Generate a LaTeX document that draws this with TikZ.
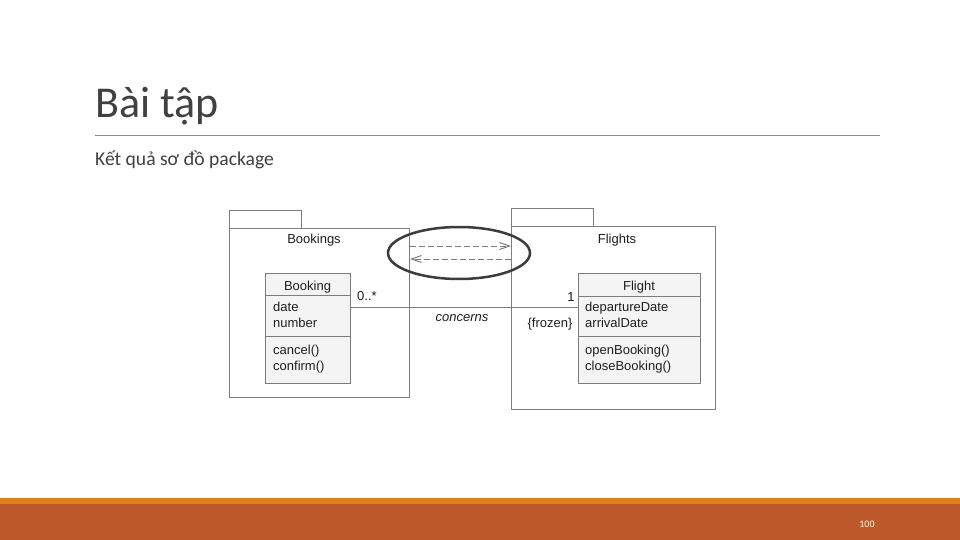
\documentclass[tikz,border=0pt]{standalone}
\usepackage{fontspec}
\setmainfont{Carlito}
\newfontfamily\umlfont{Liberation Sans}
\usetikzlibrary{arrows.meta,shapes.geometric}
\definecolor{titlegray}{RGB}{64,64,64}
\definecolor{rulegray}{RGB}{140,140,140}
\definecolor{umlgray}{RGB}{125,125,125}
\definecolor{clsfill}{RGB}{244,244,244}
\definecolor{umltext}{RGB}{30,30,30}
\definecolor{barorange}{RGB}{224,128,30}
\definecolor{barrust}{RGB}{188,88,42}
\definecolor{ellgray}{RGB}{60,60,60}
\tikzset{
  pkgbox/.style={draw=umlgray, line width=1pt, fill=white, inner sep=0pt, anchor=north west},
  clsbox/.style={draw=umlgray, line width=1pt, fill=clsfill, inner sep=0pt, anchor=north west},
  umltxt/.style={font=\umlfont\fontsize{13}{15}\selectfont, text=umltext, inner sep=0pt},
  umlleft/.style={umltxt, anchor=base west},
  umlmid/.style={umltxt, anchor=base},
  depline/.style={draw=umlgray, line width=1pt, dash pattern=on 6pt off 3pt, -{Straight Barb[length=10pt,width=7pt]}},
  assoc/.style={draw=umlgray, line width=1pt},
}
\begin{document}
\begin{tikzpicture}[x=1pt,y=-1pt]
\useasboundingbox (0,0) rectangle (960,540);
% title
\node[anchor=base west, inner sep=0pt, text=titlegray, font=\fontsize{44}{48}\selectfont] (title) at (95,118) {Bài tập};
\coordinate (ruleL) at (95,136);
\coordinate (ruleR) at (880,136);
\draw[rulegray, line width=1pt] (ruleL) -- (ruleR);
\node[anchor=base west, inner sep=0pt, text=titlegray, font=\fontsize{19.6}{24}\selectfont] (sub) at (95,166) {Kết quả sơ đồ package};
% bottom bars
\fill[barorange] (0,497.5) rectangle (960,504);
\fill[barrust] (0,504) rectangle (960,540);
\node[text=white!92!yellow, font=\fontsize{10}{12}\selectfont, inner sep=0pt] (pnum) at (867,524) {100};

% Bookings package
\node[pkgbox, minimum width=72pt, minimum height=18pt] (bktab) at (229,210) {};
\node[pkgbox, minimum width=180pt, minimum height=169pt] (bkpkg) at (229,228) {};
\node[umlmid] (bkname) at (314,243) {Bookings};
% Booking class
\node[clsbox, minimum width=85pt, minimum height=22pt] (bkhead) at (265,273) {};
\node[clsbox, minimum width=85pt, minimum height=41pt] (bkattr) at (265,295) {};
\node[clsbox, minimum width=85pt, minimum height=47pt] (bkops) at (265,336) {};
\node[umlmid] (bkcls) at (307.5,290) {Booking};
\node[umlleft] (bka1) at (273,311) {date};
\node[umlleft] (bka2) at (273,327) {number};
\node[umlleft] (bko1) at (273,354) {cancel()};
\node[umlleft] (bko2) at (273,370) {confirm()};

% Flights package
\node[pkgbox, minimum width=82pt, minimum height=18pt] (fltab) at (511,208) {};
\node[pkgbox, minimum width=204pt, minimum height=183pt] (flpkg) at (511,226) {};
\node[umlmid] (flname) at (617,243) {Flights};
% Flight class
\node[clsbox, minimum width=122pt, minimum height=23pt] (flhead) at (578,273) {};
\node[clsbox, minimum width=122pt, minimum height=40pt] (flattr) at (578,296) {};
\node[clsbox, minimum width=122pt, minimum height=47pt] (flops) at (578,336) {};
\node[umlmid] (flcls) at (639,290) {Flight};
\node[umlleft] (fla1) at (585,311) {departureDate};
\node[umlleft] (fla2) at (585,327) {arrivalDate};
\node[umlleft] (flo1) at (585,354) {openBooking()};
\node[umlleft] (flo2) at (585,370) {closeBooking()};

% association
\coordinate (ay) at (0,307);
\draw[assoc] (bkattr.east |- ay) -- (flattr.west |- ay);
\node[umlmid] (mult1) at (367,300) {0..*};
\node[umlmid] (mult2) at (571,301) {1};
\node[umlmid, font=\umlfont\itshape\fontsize{13}{15}\selectfont] (concerns) at (462,321) {concerns};
\node[umlmid] (frozen) at (550,327) {\{frozen\}};

% dependencies
\coordinate (d1) at (0,246);
\coordinate (d2) at (0,259);
\draw[depline] (bkpkg.east |- d1) -- (flpkg.west |- d1);
\draw[depline] (flpkg.west |- d2) -- (bkpkg.east |- d2);
\node[draw=ellgray, line width=2.5pt, ellipse, minimum width=142pt, minimum height=52pt, inner sep=0pt] (hl) at (459,253) {};
\end{tikzpicture}
\end{document}
